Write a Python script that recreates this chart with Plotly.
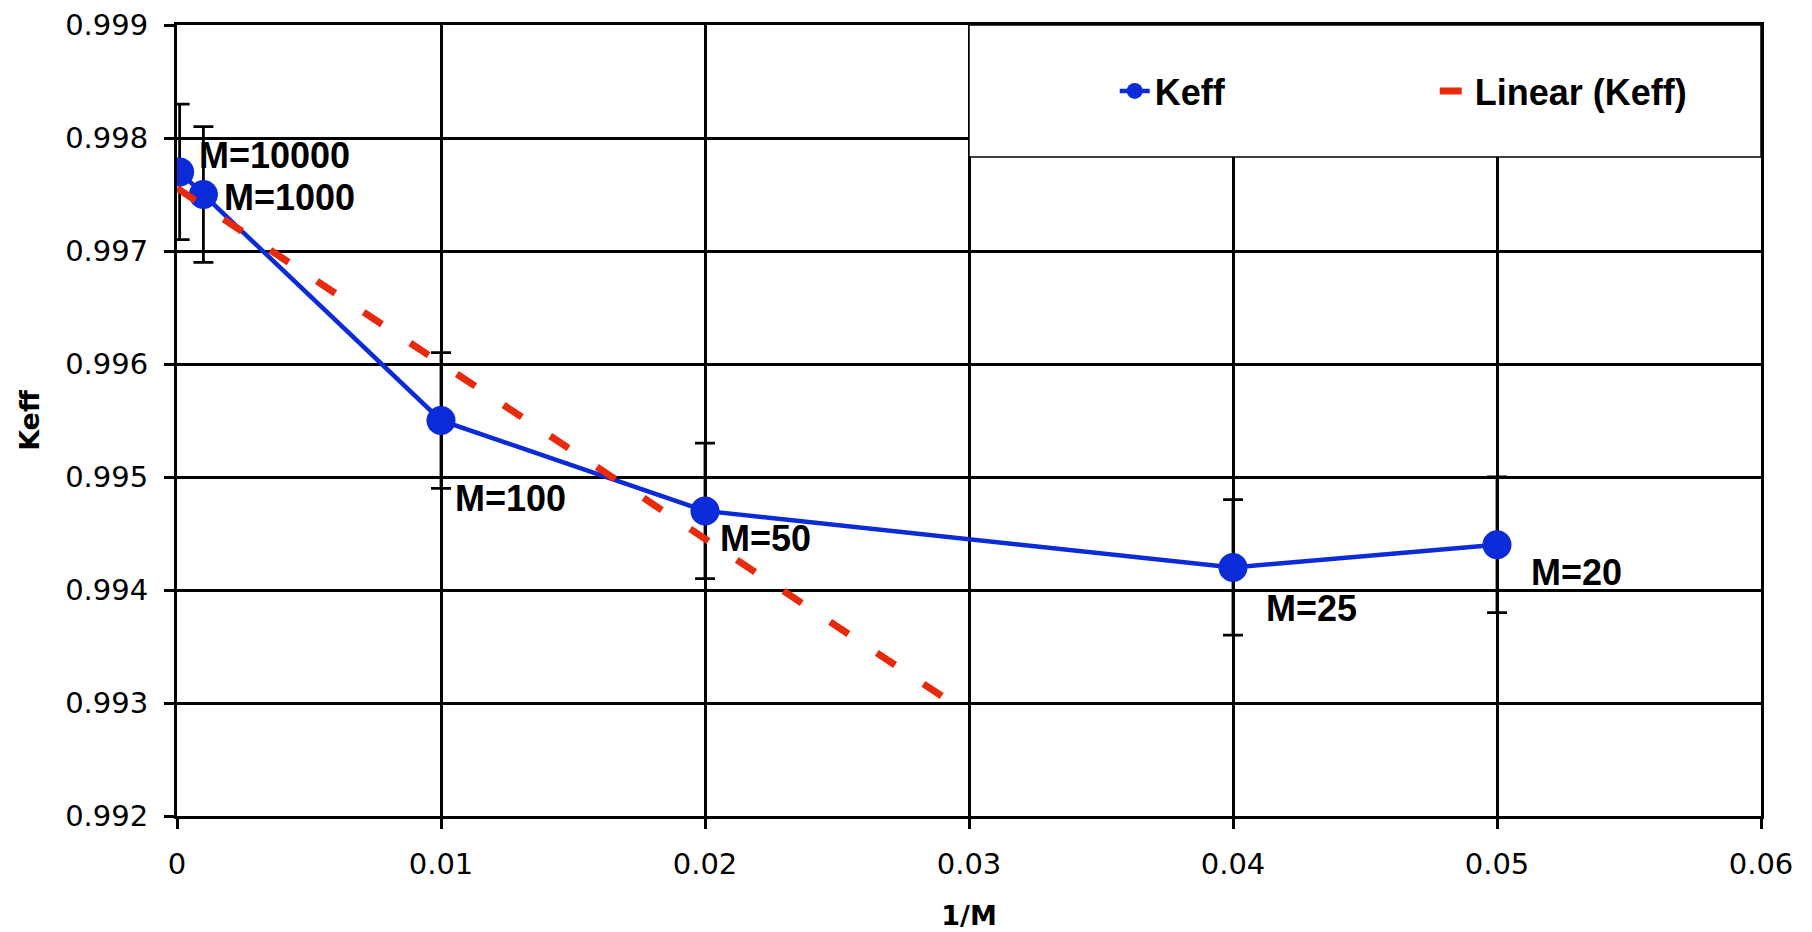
import numpy as np
import plotly.graph_objects as go

# ---- data ----
M_labels = ["M=10000", "M=1000", "M=100", "M=50", "M=25", "M=20"]
inv_M = [0.0001, 0.001, 0.01, 0.02, 0.04, 0.05]
keff = [0.9977, 0.9975, 0.9955, 0.9947, 0.9942, 0.9944]
keff_err = [0.0006, 0.0006, 0.0006, 0.0006, 0.0006, 0.0006]

# linear trendline (fitted to the first four points), drawn over this x span
trend_fit_count = 4
trend_x = [0.0, 0.0294]

x_ticks = [0, 0.01, 0.02, 0.03, 0.04, 0.05, 0.06]
y_ticks = [0.992, 0.993, 0.994, 0.995, 0.996, 0.997, 0.998, 0.999]

# ---- styles ----
BLUE = "#0b2ad8"
RED = "#e8290b"
label_shift = [(17, 16), (19, -3), (12, -78), (13, -28), (31, -41), (32, -28)]

slope, intercept = np.polyfit(inv_M[:trend_fit_count], keff[:trend_fit_count], 1)
trend_y = [intercept + slope * x for x in trend_x]

fig = go.Figure()
fig.add_trace(go.Scatter(
    x=inv_M, y=keff, name="Keff", mode="lines+markers",
    line=dict(color=BLUE, width=4.5),
    marker=dict(color=BLUE, size=29),
    error_y=dict(type="data", array=keff_err, visible=True,
                 color="black", thickness=2.8, width=10),
))
fig.add_trace(go.Scatter(
    x=trend_x, y=trend_y, name="Linear (Keff)", mode="lines",
    line=dict(color=RED, width=7, dash="22px,34px"),
))

for x, y, t, (dx, dy) in zip(inv_M, keff, M_labels, label_shift):
    fig.add_annotation(x=x, y=y, text=t, showarrow=False,
                       xanchor="left", yanchor="middle", xshift=dx, yshift=dy,
                       font=dict(family="Liberation Sans", size=36, color="black", weight="bold"))

# legend box
fig.add_shape(type="rect", xref="paper", yref="paper",
              x0=0.5, x1=1.0, y0=1 - 132 / 791, y1=1.0,
              fillcolor="white", line=dict(color="black", width=1.5), layer="above")

tick_font = dict(family="DejaVu Sans", size=29, color="black")
title_font = dict(family="DejaVu Sans", size=27, color="black", weight="bold")

fig.update_layout(
    width=1812, height=932,
    margin=dict(l=177, r=51, t=25, b=116),
    paper_bgcolor="white", plot_bgcolor="white",
    showlegend=True,
    legend=dict(orientation="h", x=0.592, xanchor="left", y=1 - 66 / 791, yanchor="middle",
                bgcolor="rgba(0,0,0,0)", entrywidth=275, entrywidthmode="pixels",
                font=dict(family="Liberation Sans", size=36, color="black", weight="bold")),
    xaxis=dict(range=[0, 0.06], tickvals=x_ticks, showgrid=True, gridcolor="black", gridwidth=2.5,
               zeroline=False, showline=True, linecolor="black", linewidth=3, mirror=True,
               ticks="outside", ticklen=10, tickwidth=2.5, tickcolor="black",
               tickfont=tick_font, ticklabelstandoff=10,
               title=dict(text="1/M", font=title_font, standoff=27), automargin=False),
    yaxis=dict(range=[0.992, 0.999], tickvals=y_ticks, showgrid=True, gridcolor="black", gridwidth=2.5,
               zeroline=False, showline=True, linecolor="black", linewidth=3, mirror=True,
               ticks="outside", ticklen=10, tickwidth=2.5, tickcolor="black",
               tickfont=tick_font, ticklabelstandoff=10,
               title=dict(text="Keff", font=title_font, standoff=18), automargin=False),
)

fig.write_html("out.html", config={"displayModeBar": False},
               post_script="document.body.style.margin='0';")
